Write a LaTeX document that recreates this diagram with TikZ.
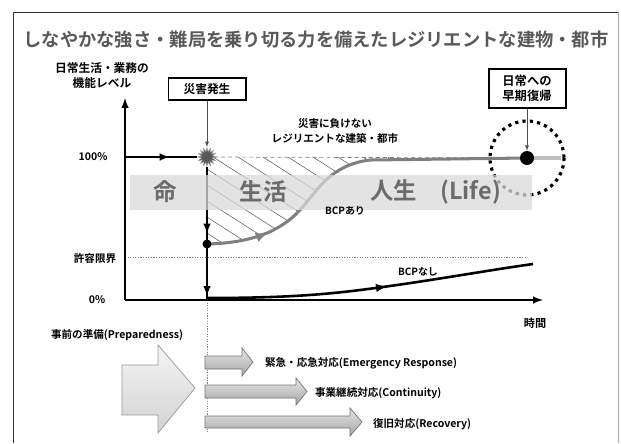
\documentclass[tikz,border=0pt]{standalone}
\usepackage{fontspec}
\setmainfont{Noto Sans CJK JP}[BoldFont={Noto Sans CJK JP Bold}]
\usetikzlibrary{shapes.geometric,decorations.markings}

\tikzset{
  axisline/.style={line width=1.9pt, -latex},
  thickline/.style={line width=1.9pt},
  arrowat/.style={postaction={decorate,decoration={markings,mark=at position #1 with {\arrow{latex}}}}},
  eventbox/.style={draw, line width=1.7pt, minimum width=2.31cm, inner sep=1.5pt, align=center, font=\bfseries\fontsize{10}{12.8}\selectfont},
  lbl/.style={font=\bfseries\fontsize{9}{13.6}\selectfont, align=center},
  bandtext/.style={text=black!58, font=\bfseries\fontsize{20}{22}\selectfont},
  dot/.style={circle, fill=black, inner sep=0pt},
  hatchline/.style={gray!70!black, line width=0.45pt},
  blockarrow/.style={draw=black!55, line width=0.6pt, top color=gray!20, bottom color=gray!70},
}

\begin{document}
\begin{tikzpicture}[x=0.03cm, y=-0.03cm]
  \useasboundingbox (0,0) rectangle (621,443);
  % frame and title
  \draw[black!80, line width=0.8pt] (13,443) -- (13,12) -- (618,12);
  \draw[black!35, line width=0.8pt] (618,12) -- (618,443);
  \node[text=black!65, font=\bfseries\fontsize{15.6}{18}\selectfont] (title) at (316,40)
    {しなやかな強さ・難局を乗り切る力を備えたレジリエントな建物・都市};

  % key points of the chart
  \coordinate (orig) at (125,300);
  \coordinate (ytop) at (125,98);
  \coordinate (xend) at (543,300);
  \coordinate (full) at (125,157);
  \coordinate (drop) at (207,244);
  \coordinate (floor) at (207,300);
  \coordinate (back) at (527,158);

  % hatched loss area
  \begin{scope}
    \clip (207,157) -- (drop) .. controls (250,243) and (280,232) .. (300,210)
      .. controls (318,190) and (330,165) .. (370,160) -- (back) -- (527,157) -- cycle;
    \foreach \x in {88,113,...,513}
      \draw[hatchline] (\x,157) -- ++(200,128);
  \end{scope}
  \draw[gray, line width=0.6pt, dash pattern=on 3.5pt off 2.5pt] (207,157) -- (back);

  % recovery circle
  \draw[line width=2.7pt, dash pattern=on 2.7pt off 3.6pt] (back) circle (37);

  % with BCP
  \draw[black!50, line width=2.6pt, arrowat=0.18] (drop) .. controls (250,243) and (280,232) .. (300,210)
    .. controls (318,190) and (330,165) .. (370,160) -- (back);
  \draw[black!25, line width=2.6pt] (back) -- (561,158);

  % tolerance limit
  \draw[gray, line width=0.6pt, dash pattern=on 1pt off 1.2pt] (125,257) -- (527,257);
  \draw[gray, line width=0.6pt, dash pattern=on 1pt off 1.2pt] (floor) -- (207,432);

  % without BCP
  \draw[line width=2.2pt, arrowat=0.55] (207,298) .. controls (300,298) and (340,293) .. (390,286)
    .. controls (440,279) and (490,270) .. (533,264);

  % axes
  \draw[axisline] (orig) -- (xend);
  \draw[axisline] (orig) -- (ytop);

  % disaster
  \node[star, star points=16, star point ratio=1.7, minimum size=0.55cm, inner sep=0pt,
    fill=black!65, draw=black!40] (hit) at (207,157) {};
  \draw[thickline, arrowat=0.62] (full) -- (hit);
  \draw[thickline, arrowat=0.5, arrowat=0.97] (hit) -- (floor);
  \node[dot, minimum size=0.27cm] (dropdot) at (drop) {};
  \node[dot, minimum size=0.42cm] (backdot) at (back) {};

  % life band
  \fill[gray!30, fill opacity=0.75] (130,175) rectangle (532,210);
  \node[bandtext] (life1) at (165,192) {命};
  \node[bandtext] (life2) at (263,192) {生活};
  \node[bandtext, anchor=west] (life3) at (366,192) {人生　(Life)};
  \node[lbl, font=\bfseries\fontsize{8.5}{10}\selectfont] (withbcp) at (345,211) {BCPあり};
  \node[lbl, font=\bfseries\fontsize{8.5}{10}\selectfont] (nobcp) at (418,272) {BCPなし};

  % labels and boxes
  \node[lbl, font=\bfseries\fontsize{10}{12.8}\selectfont] (ylabel) at (102,75.5) {日常生活・業務の\\機能レベル};
  \node[lbl] (p100) at (93,157) {100\%};
  \node[lbl] (plimit) at (95,259) {許容限界};
  \node[lbl] (p0) at (97,300) {0\%};
  \node[lbl, font=\bfseries\fontsize{9.5}{12}\selectfont] (tlabel) at (535,323) {時間};
  \node[lbl] (resilient) at (335,131) {災害に負けない\\レジリエントな建築・都市};

  \node[eventbox, minimum height=0.66cm] (disaster) at (207,89) {災害発生};
  \node[eventbox, minimum height=1.17cm, font=\bfseries\fontsize{10.5}{12.8}\selectfont] (recover) at (527,88.5) {日常への\\早期復帰};
  \draw[black!70, line width=0.6pt, -latex] (disaster) -- (hit);
  \draw[black!70, line width=0.6pt, -latex] (recover) -- (backdot);

  % preparedness and responses
  \node[lbl, anchor=west] (prep) at (47,335) {事前の準備(Preparedness)};
  \draw[draw=black!40, line width=0.6pt, top color=gray!8, bottom color=gray!35]
    (122,365) -- (158,365) -- (158,345) -- (195,388) -- (158,433) -- (158,415) -- (122,415) -- cycle;
  \draw[blockarrow] (205,356) -- (242,356) -- (242,348) -- (253,362) -- (242,376) -- (242,369) -- (205,369) -- cycle;
  \draw[blockarrow] (205,385) -- (296,385) -- (296,378) -- (307,391.5) -- (296,405) -- (296,398) -- (205,398) -- cycle;
  \draw[blockarrow] (205,416) -- (350,416) -- (350,408) -- (362,422) -- (350,436) -- (350,428) -- (205,428) -- cycle;
  \node[lbl, anchor=west] (emerg) at (261,363) {緊急・応急対応(Emergency Response)};
  \node[lbl, anchor=west] (cont) at (311,393) {事業継続対応(Continuity)};
  \node[lbl, anchor=west] (recov) at (369,424) {復旧対応(Recovery)};
\end{tikzpicture}
\end{document}
